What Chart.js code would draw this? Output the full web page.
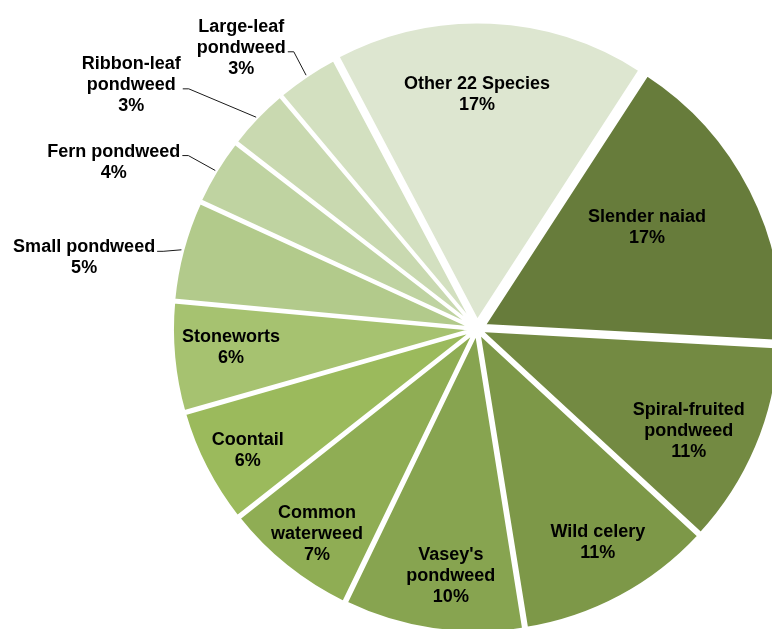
<!DOCTYPE html>
<html>
<head>
<meta charset="utf-8">
<title>Submerged plant species</title>
<script src="https://cdn.jsdelivr.net/npm/chart.js@4.4.1/dist/chart.umd.min.js"></script>
<style>
  html, body { margin: 0; padding: 0; background: #fff; overflow: hidden; }
  #wrap { width: 772px; height: 629px; overflow: hidden; position: relative; }
  #pie { position: absolute; left: 0; top: 0; }
</style>
</head>
<body>
<div id="wrap"><canvas id="pie" width="954" height="658"></canvas></div>
<script>
// species, clockwise starting from the top right slice
const species = [
  'Slender naiad',
  ['Spiral-fruited', 'pondweed'],
  'Wild celery',
  ["Vasey's", 'pondweed'],
  ['Common', 'waterweed'],
  'Coontail',
  'Stoneworts',
  'Small pondweed',
  'Fern pondweed',
  ['Ribbon-leaf', 'pondweed'],
  ['Large-leaf', 'pondweed'],
  'Other 22 Species'
];

// share of all plants found (%)
const share = [16.7, 11.0, 10.6, 9.7, 7.2, 6.2, 5.9, 5.4, 3.6, 3.4, 3.4, 16.9];

const colors = [
  '#677c3b', '#738a42', '#7d9848', '#87a450', '#8fad54', '#9bba5c',
  '#a6c270', '#b2ca8b', '#bfd3a1', '#c9d9b0', '#d3e0c0', '#dde6d0'
];

// how far each slice is pulled out (px)
const explode = [8, 4, 4, 4, 4, 4, 4, 4, 4, 4, 4, 8];

// labels inside the slice: [fraction of radius, turn in degrees]
const inside = {
  0: [0.637, -3.8],
  1: [0.775, 2.7],
  2: [0.81, -1.3],
  3: [0.82, -2.3],
  4: [0.859, -0.8],
  5: [0.857, -0.8],
  6: [0.814, 1.1],
  11: [0.76, -2.6]
};

// small slices get their label outside with a leader line: [elbow distance, turn]
const outside = {
  7: [1.085, -1.1],
  8: [1.13, -0.2],
  9: [1.259, -4.0],
  10: [1.115, 0.5]
};

const FONT = 'bold 18px "Liberation Sans", Arial, sans-serif';
const RAD = Math.PI / 180;

const sliceLabels = {
  id: 'sliceLabels',
  afterDatasetsDraw(chart) {
    const ctx = chart.ctx;
    const arcs = chart.getDatasetMeta(0).data;
    const total = share.reduce((a, b) => a + b, 0);
    const lh = 21;
    ctx.save();
    ctx.font = FONT;
    ctx.fillStyle = '#000';
    arcs.forEach((arc, i) => {
      const p = arc.getProps(['x', 'y', 'startAngle', 'endAngle', 'outerRadius'], true);
      const mid = (p.startAngle + p.endAngle) / 2;
      const lines = [].concat(species[i], Math.round(share[i] / total * 100) + '%');

      if (inside[i]) {
        const [frac, turn] = inside[i];
        const d = explode[i] + p.outerRadius * frac;
        const a = mid + turn * RAD;
        const cx = p.x + Math.cos(a) * d;
        const cy = p.y + Math.sin(a) * d;
        ctx.textAlign = 'center';
        ctx.textBaseline = 'middle';
        lines.forEach((t, k) => ctx.fillText(t, cx, cy + (k - (lines.length - 1) / 2) * lh));
        return;
      }

      // leader: from the slice edge to an elbow, then flat to the text
      const [dist, turn] = outside[i];
      const a = mid + turn * RAD;
      const ex = p.x + Math.cos(a) * p.outerRadius * dist;
      const ey = p.y + Math.sin(a) * p.outerRadius * dist;
      const ax = p.x + Math.cos(mid) * (p.outerRadius + explode[i] + 4);
      const ay = p.y + Math.sin(mid) * (p.outerRadius + explode[i] + 4);
      const w = Math.max(...lines.map(t => ctx.measureText(t).width));
      const right = ex - 8;

      ctx.strokeStyle = '#1a1a1a';
      ctx.lineWidth = 1;
      ctx.beginPath();
      ctx.moveTo(right + 2, ey);
      ctx.lineTo(ex, ey);
      ctx.lineTo(ax, ay);
      ctx.stroke();

      const k0 = Math.floor((lines.length - 1) / 2);
      ctx.textAlign = 'center';
      ctx.textBaseline = 'alphabetic';
      lines.forEach((t, k) => ctx.fillText(t, right - w / 2, ey + 1 + (k - k0) * lh));
    });
    ctx.restore();
  }
};

new Chart(document.getElementById('pie'), {
  type: 'pie',
  data: {
    labels: species,
    datasets: [{
      data: share,
      backgroundColor: colors,
      borderColor: '#ffffff',
      borderWidth: 3,
      offset: explode.map(d => d * 4)
    }]
  },
  options: {
    responsive: false,
    animation: false,
    devicePixelRatio: 1,
    rotation: 33,
    radius: 298,
    layout: { padding: 0 },
    plugins: {
      legend: { display: false },
      tooltip: { enabled: false }
    }
  },
  plugins: [sliceLabels]
});
</script>
</body>
</html>
